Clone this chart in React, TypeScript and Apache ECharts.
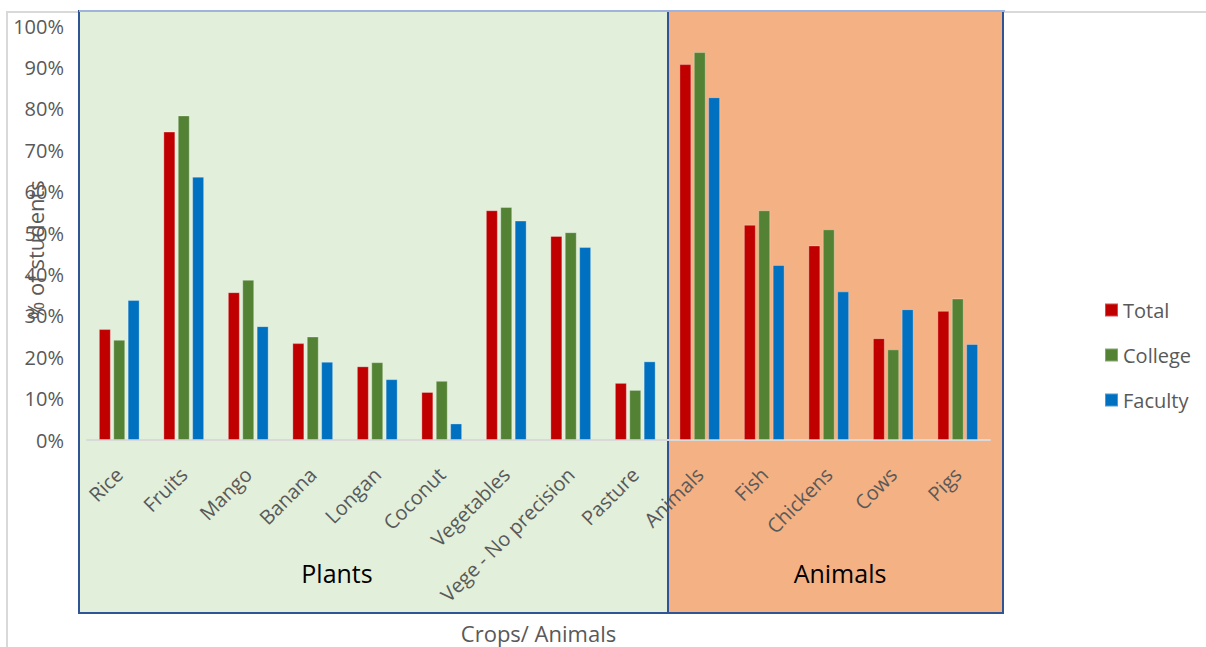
import React, { useEffect, useRef } from "react";
import * as echarts from "echarts";

// Crops / animals raised, share of students (%)
const categories = [
  "Rice", "Fruits", "Mango", "Banana", "Longan", "Coconut", "Vegetables",
  "Vege - No precision", "Pasture", "Animals", "Fish", "Chickens", "Cows", "Pigs",
];
const totalValues = [26.8, 74.5, 35.7, 23.4, 17.8, 11.6, 55.5, 49.3, 13.8, 90.8, 52.0, 47.0, 24.6, 31.2];
const collegeValues = [24.2, 78.4, 38.7, 25.0, 18.8, 14.3, 56.3, 50.2, 12.1, 93.7, 55.5, 50.9, 21.9, 34.2];
const facultyValues = [33.8, 63.6, 27.5, 18.9, 14.7, 4.0, 53.0, 46.6, 19.0, 82.8, 42.3, 35.9, 31.6, 23.2];

const seriesNames = ["Total", "College", "Faculty"];
const seriesColors = ["#C00000", "#548235", "#0070C0"];

// Group bands under the categories: Plants covers the first 9, Animals the last 5
const groupNames = ["Plants", "Animals"];
const groupSizes = [9, 5];

const FONT = "'Open Sans', 'Noto Sans', sans-serif";
const GREY = "#595959";

export default function App() {
  const ref = useRef<HTMLDivElement>(null);

  useEffect(() => {
    if (!ref.current) return;
    const chart = echarts.init(ref.current, null, { renderer: "svg" });

    const values = [totalValues, collegeValues, facultyValues];
    chart.setOption({
      animation: false,
      backgroundColor: "#ffffff",
      textStyle: { fontFamily: FONT },
      grid: {
        left: 87,
        right: 216,
        top: 26,
        bottom: 207,
        containLabel: false,
        outerBoundsMode: "none",
      },
      legend: {
        data: seriesNames,
        orient: "vertical",
        left: 1099,
        top: 295,
        itemWidth: 13,
        itemHeight: 13,
        itemGap: 25,
        icon: "rect",
        textStyle: { color: GREY, fontSize: 20, fontFamily: FONT },
      },
      xAxis: {
        type: "category",
        data: categories,
        name: "Crops/ Animals",
        nameLocation: "middle",
        nameGap: 182,
        nameTextStyle: { color: GREY, fontSize: 22, fontFamily: FONT },
        axisLine: { show: true, lineStyle: { color: "#D9D9D9", width: 2 } },
        axisTick: { show: false },
        axisLabel: {
          interval: 0,
          rotate: 45,
          margin: 31,
          color: GREY,
          fontSize: 20,
          fontFamily: FONT,
        },
      },
      yAxis: {
        type: "value",
        min: 0,
        max: 100,
        interval: 10,
        axisLine: { show: false },
        axisTick: { show: false },
        splitLine: { show: false },
        axisLabel: {
          formatter: "{value}%",
          margin: 23,
          color: GREY,
          fontSize: 20,
          fontFamily: FONT,
        },
      },
      series: seriesNames.map((name, i) => ({
        name,
        type: "bar",
        data: values[i],
        barWidth: 12,
        barGap: "20%",
        itemStyle: {
          color: seriesColors[i],
          borderColor: "rgba(255,255,255,0.3)",
          borderWidth: 1,
        },
        z: 5,
      })),
    });

    // Band edges follow the category axis: the divider sits between the last plant and first animal
    const lastPlant = groupSizes[0] - 1;
    const xa = chart.convertToPixel({ xAxisIndex: 0 }, lastPlant) as number;
    const xb = chart.convertToPixel({ xAxisIndex: 0 }, lastPlant + 1) as number;
    const divider = Math.round((xa + xb) / 2);
    const boxTop = 11;
    const boxBottom = 613;
    const boxLeft = 79;
    const boxRight = 1003;

    chart.setOption({
      graphic: [
        // outer chart-area frame
        {
          type: "polyline",
          shape: { points: [[7, 647], [7, 12], [1206, 12]] },
          style: { stroke: "#D9D9D9", lineWidth: 2, fill: null },
          z: -3,
        },
        {
          type: "rect",
          shape: { x: boxLeft, y: boxTop, width: divider - boxLeft, height: boxBottom - boxTop },
          style: { fill: "#E2EFDA", stroke: "#2F5597", lineWidth: 2 },
          z: -2,
        },
        {
          type: "rect",
          shape: { x: divider, y: boxTop, width: boxRight - divider, height: boxBottom - boxTop },
          style: { fill: "#F4B183", stroke: "#2F5597", lineWidth: 2 },
          z: -2,
        },
        {
          type: "line",
          shape: { x1: boxLeft, y1: boxTop, x2: boxRight + 2, y2: boxTop },
          style: { stroke: "#9FB3DC", lineWidth: 2 },
          z: -1,
        },
        {
          type: "text",
          x: 337,
          y: 573,
          style: {
            text: groupNames[0],
            fill: "#000000",
            font: `25px ${FONT}`,
            align: "center",
            verticalAlign: "middle",
          },
          z: 10,
        },
        {
          type: "text",
          x: 840,
          y: 573,
          style: {
            text: groupNames[1],
            fill: "#000000",
            font: `25px ${FONT}`,
            align: "center",
            verticalAlign: "middle",
          },
          z: 10,
        },
        {
          type: "text",
          x: 35,
          y: 250,
          rotation: Math.PI / 2,
          style: {
            text: "% of students",
            fill: GREY,
            font: `22px ${FONT}`,
            align: "center",
            verticalAlign: "middle",
          },
          z: 10,
        },
      ],
    });

    return () => chart.dispose();
  }, []);

  return (
    <div
      ref={ref}
      style={{ position: "fixed", left: 0, top: 0, width: 1206, height: 647 }}
    />
  );
}
